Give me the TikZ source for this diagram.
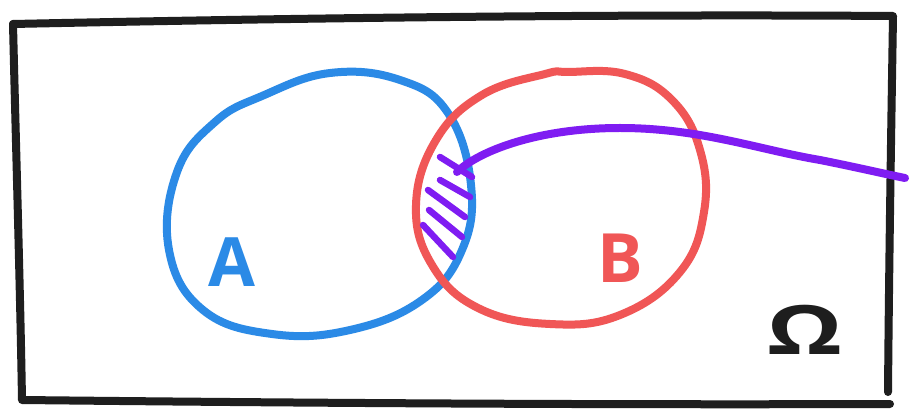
\documentclass[tikz,border=0pt]{standalone}
\usepackage{fontspec}
\setmainfont{Open Sans}
\definecolor{inkblack}{HTML}{1E1E1E}
\definecolor{inkblue}{HTML}{2B8AE6}
\definecolor{inkred}{HTML}{F05656}
\definecolor{inkviolet}{HTML}{7F1CF2}
\begin{document}
\begin{tikzpicture}[x=1pt,y=-1pt,
  stroke/.style={line width=8pt,line cap=round,line join=round},
  hatch/.style={stroke,inkviolet,line width=6.5pt},
  lbl/.style={inner sep=0pt,font=\fontsize{68}{68}\selectfont\bfseries}]
\useasboundingbox (0,0) rectangle (909,411);
\fill[white] (0,0) rectangle (909,411);
% frame
\draw[stroke,inkblack] (13,24) .. controls (300,18) and (600,14) .. (893,16)
  .. controls (891,140) and (889,270) .. (888,392);
\draw[stroke,inkblack] (13,24) .. controls (16,150) and (20,280) .. (22,400)
  .. controls (300,403) and (600,405) .. (890,404);
% circle A
\draw[stroke,inkblue] plot[smooth cycle,tension=0.7] coordinates {
 (262,96) (330,73) (400,80) (448,113) (471,185) (462,250) (422,300)
 (350,330) (272,334) (203,310) (169,250) (177,172) (215,122)};
% circle B
\draw[stroke,inkred] plot[smooth cycle,tension=0.7] coordinates {
 (568,72) (625,74) (672,100) (700,150) (704,212) (680,272) (620,315)
 (550,324) (478,308) (432,265) (416,205) (436,140) (482,95) (545,74)};
% violet line
\draw[stroke,inkviolet] (457,172) .. controls (480,150) and (540,128) .. (620,128)
  .. controls (700,128) and (760,150) .. (820,160) .. controls (860,168) and (885,174) .. (905,178);
% hatching
\draw[hatch] (440,157) -- (472,177);
\draw[hatch] (440,180) -- (470,197);
\draw[hatch] (428,190) -- (465,217);
\draw[hatch] (429,210) -- (462,237);
\draw[hatch] (423,225) -- (453,257);
% labels
\node[lbl,text=inkblue] (A) at (232,262) {A};
\node[lbl,text=inkred] (B) at (620,258) {B};
\node[lbl,text=inkblack,xscale=1.4] (Om) at (805,330) {Ω};
\end{tikzpicture}
\end{document}
